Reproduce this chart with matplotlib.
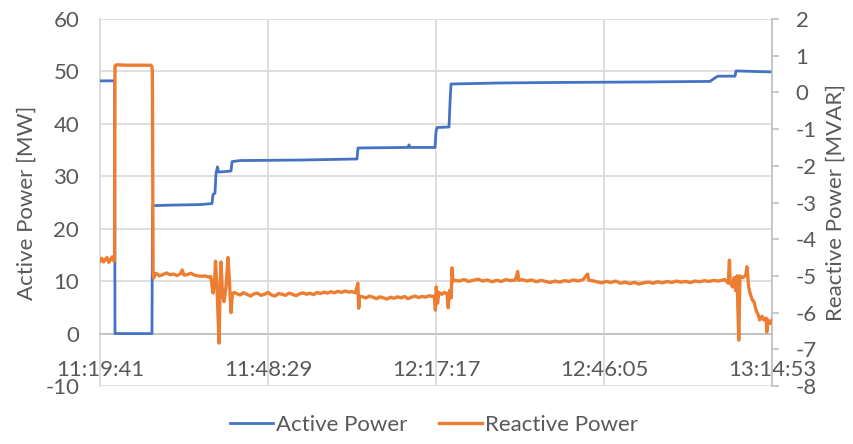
import matplotlib
matplotlib.use("Agg")
import matplotlib.pyplot as plt

plt.rcParams["font.family"] = ["Lato", "DejaVu Sans"]
plt.rcParams["axes.unicode_minus"] = False

BLUE = "#4472C4"
ORANGE = "#ED7D31"
TEXT = "#595959"
GRID = "#D9D9D9"
AXIS = "#BFBFBF"
FS = 16

# time axis: minutes after 11:19:41
TICK_POS = [0, 28.8, 57.6, 86.4, 115.2]
TICK_LABELS = ["11:19:41", "11:48:29", "12:17:17", "12:46:05", "13:14:53"]

# active power [MW]
ACTIVE_T = [0.0, 2.49, 2.57, 8.91, 9.0, 12.0, 17.14, 19.2, 19.37, 19.71,
            19.89, 20.14, 20.31, 22.46, 22.63, 24.0, 34.29, 44.06, 44.23,
            52.8, 52.97, 53.14, 57.43, 57.6, 57.77, 59.83, 60.0, 60.17,
            68.57, 78.86, 94.29, 104.57, 105.6, 105.94, 108.86, 109.03, 115.2]
ACTIVE_V = [48.2, 48.2, 0.0, 0.0, 24.4, 24.5, 24.6, 24.8, 26.5, 26.8,
            30.6, 31.8, 30.8, 31.0, 32.8, 33.0, 33.1, 33.3, 35.4,
            35.5, 36.0, 35.5, 35.5, 38.5, 39.3, 39.4, 44.0, 47.6,
            47.8, 47.9, 48.0, 48.1, 48.9, 49.1, 49.1, 50.1, 49.9]

# reactive power [MVAR]
REACT_T = [0.0, 0.3, 0.6, 0.9, 1.2, 1.5, 1.8, 2.1, 2.4, 2.5,
           2.57, 2.8, 5.0, 8.7, 8.9, 8.98, 9.1, 9.2, 9.4,
           9.6, 10.2, 10.8, 11.4, 12.0, 12.6, 13.2, 13.8, 14.1, 14.4,
           15.0, 15.6, 16.2, 16.8, 17.4, 18.0, 18.6, 19.0,
           19.37, 19.63, 19.8, 20.06, 20.4, 20.57, 20.74, 21.0, 21.26,
           21.6, 21.94, 22.2, 22.46, 22.7, 22.97,
           23.4, 24.0, 24.6, 25.2, 25.8, 26.4, 27.0, 27.6, 28.2, 28.8,
           29.4, 30.0, 30.6, 31.2, 31.8, 32.4, 33.0, 33.6, 34.2, 34.8,
           35.4, 36.0, 36.6, 37.2, 37.8, 38.4, 39.0, 39.6, 40.2, 40.8,
           41.4, 42.0, 42.6, 43.2, 43.8, 44.2, 44.35, 44.5,
           45.0, 45.6, 46.2, 46.8, 47.4, 48.0, 48.6, 49.2, 49.8, 50.4,
           51.0, 51.6, 52.2, 52.8, 53.4, 54.0, 54.6, 55.2, 55.8, 56.4, 57.0,
           57.3, 57.5, 57.65, 57.85, 58.1, 58.6, 59.1, 59.5, 59.7, 59.9,
           60.2, 60.35, 60.5, 60.8,
           61.6, 62.4, 63.2, 64.0, 64.8, 65.6, 66.4, 67.2, 68.0, 68.8,
           69.6, 70.4, 71.2, 71.6, 71.8, 72.4, 73.2, 74.0, 74.8, 75.6,
           76.4, 77.2, 78.0, 78.8, 79.6, 80.4, 81.2, 82.0, 82.8, 83.6,
           83.8, 84.4, 85.2, 86.0, 86.8, 87.6, 88.4, 89.2, 90.0, 90.8,
           91.6, 92.4, 93.2, 94.0, 94.8, 95.6, 96.4, 97.2, 98.0, 98.8,
           99.6, 100.4, 101.2, 102.0, 102.8, 103.6, 104.4, 105.2, 106.0,
           106.8, 107.1, 107.7, 107.9, 108.0, 108.4, 108.7, 108.96, 109.2,
           109.5, 109.7, 110.2, 110.7, 110.9, 111.2, 111.4, 111.8, 112.1,
           112.5, 112.8, 113.1, 113.5, 113.8, 114.2, 114.3, 114.5, 114.9, 115.2]
REACT_V = [-4.60, -4.52, -4.62, -4.55, -4.50, -4.63, -4.56, -4.48, -4.60, -4.55,
           0.72, 0.75, 0.74, 0.74, 0.70, 0.55, -4.90, -5.06, -4.95,
           -4.93, -5.00, -4.96, -4.92, -4.97, -4.95, -4.99, -4.94, -4.84, -4.98,
           -4.96, -4.93, -4.98, -5.00, -5.01, -5.00, -5.03, -5.02,
           -5.47, -5.20, -4.60, -5.30, -6.83, -5.50, -4.62, -5.50, -5.70,
           -5.30, -4.50, -5.20, -6.00, -5.50, -5.45,
           -5.48, -5.52, -5.46, -5.50, -5.55, -5.49, -5.47, -5.53, -5.50, -5.45,
           -5.52, -5.55, -5.48, -5.50, -5.53, -5.47, -5.50, -5.54, -5.49, -5.46,
           -5.50, -5.47, -5.51, -5.45, -5.48, -5.44, -5.47, -5.43, -5.46, -5.42,
           -5.45, -5.41, -5.44, -5.43, -5.46, -5.20, -5.88, -5.55,
           -5.57, -5.60, -5.55, -5.58, -5.62, -5.57, -5.60, -5.63, -5.58, -5.61,
           -5.57, -5.60, -5.56, -5.62, -5.58, -5.55, -5.59, -5.56, -5.58, -5.54, -5.56,
           -5.55, -5.93, -5.30, -5.75, -5.45, -5.50, -5.45, -5.50, -5.87, -5.40,
           -5.60, -4.78, -5.15, -5.12,
           -5.14, -5.10, -5.15, -5.12, -5.09, -5.14, -5.11, -5.16, -5.12, -5.15,
           -5.10, -5.13, -5.11, -4.88, -5.12, -5.10, -5.14, -5.11, -5.16, -5.12,
           -5.15, -5.18, -5.14, -5.17, -5.13, -5.15, -5.11, -5.14, -5.10, -4.95,
           -5.12, -5.13, -5.16, -5.19, -5.15, -5.18, -5.14, -5.20, -5.17, -5.21,
           -5.18, -5.22, -5.19, -5.17, -5.20, -5.16, -5.19, -5.15, -5.18, -5.14,
           -5.17, -5.15, -5.18, -5.14, -5.16, -5.13, -5.15, -5.12, -5.14,
           -5.11, -5.10, -5.20, -4.57, -5.15, -5.30, -5.05, -5.40, -5.00,
           -6.75, -5.00, -5.05, -4.98, -4.75, -5.30, -5.45, -5.65, -5.70,
           -5.95, -6.05, -6.20, -6.10, -6.20, -6.15, -6.53, -6.20, -6.30, -6.20]

fig = plt.figure(figsize=(8.54, 4.44), dpi=100)
ax = fig.add_axes([0.1171, 0.1306, 0.7869, 0.8266])
ax2 = ax.twinx()

ax.plot(ACTIVE_T, ACTIVE_V, color=BLUE, lw=2.0, solid_joinstyle="round",
        label="Active Power", zorder=3)
ax2.plot(REACT_T, REACT_V, color=ORANGE, lw=2.4, solid_joinstyle="round",
         label="Reactive Power", zorder=3)

ax.set_xlim(0, 115.2)
ax.set_ylim(-10, 60)
ax.set_yticks(range(-10, 61, 10))
ax.set_xticks(TICK_POS)
ax.set_xticklabels(TICK_LABELS)
ax2.set_ylim(-8, 2)
ax2.set_yticks(range(-8, 3))

ax.grid(True, color=GRID, lw=1.2)
ax.set_axisbelow(True)

for s in ["top", "right"]:
    ax.spines[s].set_visible(False)
ax.spines["left"].set_color(GRID)
ax.spines["left"].set_linewidth(1.2)
ax.spines["bottom"].set_position(("data", 0))
ax.spines["bottom"].set_color(AXIS)
ax.spines["bottom"].set_linewidth(1.2)
for s in ["top", "left", "bottom"]:
    ax2.spines[s].set_visible(False)
ax2.spines["right"].set_color(AXIS)
ax2.spines["right"].set_linewidth(1.2)

ax.tick_params(axis="y", length=0, pad=15, labelsize=FS, labelcolor=TEXT)
ax.tick_params(axis="x", length=0, pad=19, labelsize=FS, labelcolor=TEXT)
ax2.tick_params(axis="y", length=5, width=1.2, color=AXIS, pad=12,
                labelsize=FS, labelcolor=TEXT)

ax.set_ylabel("Active Power [MW]", fontsize=FS, color=TEXT, labelpad=6)
ax2.set_ylabel("Reactive Power [MVAR]", fontsize=FS, color=TEXT, labelpad=6)

h1, l1 = ax.get_legend_handles_labels()
h2, l2 = ax2.get_legend_handles_labels()
fig.legend(h1 + h2, l1 + l2, loc="lower center", bbox_to_anchor=(0.508, -0.025),
           ncol=2, frameon=False, fontsize=FS, labelcolor=TEXT,
           handlelength=1.95, handletextpad=0.1, columnspacing=1.45)

fig.savefig("out.png", dpi=100)
